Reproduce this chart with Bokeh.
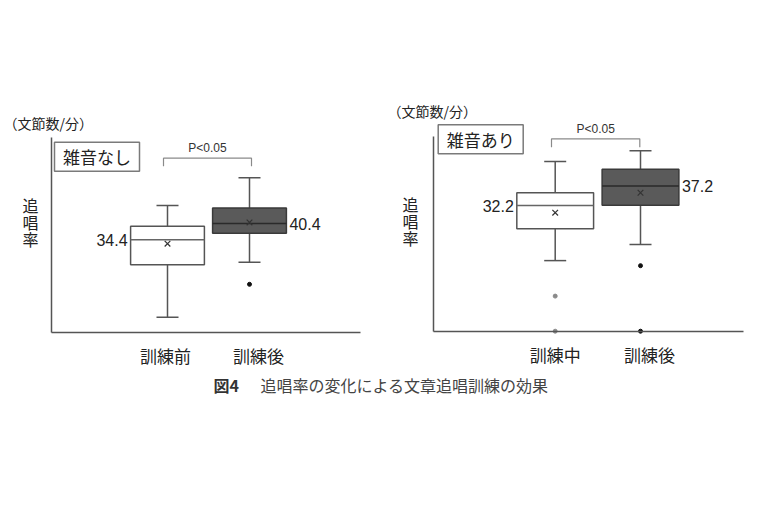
from bokeh.plotting import figure
from bokeh.models import Range1d, LinearAxis, FixedTicker
from bokeh.layouts import row, column
from bokeh.embed import file_html
from bokeh.resources import INLINE
from bokeh.core.properties import value

# ---------------- data ----------------
left_categories = ["訓練前", "訓練後"]
left_q1 = [25.1, 36.8]
left_median = [34.4, 40.4]
left_q3 = [39.4, 46.2]
left_lower = [5.6, 26.0]
left_upper = [47.1, 57.4]
left_mean = [32.9, 40.8]
left_outlier_box = [2]
left_outlier_val = [17.8]
left_labels = ["34.4", "40.4"]
left_ymax = 72.5

right_categories = ["訓練中", "訓練後"]
right_q1 = [26.3, 32.3]
right_median = [32.2, 37.2]
right_q3 = [35.5, 41.5]
right_lower = [18.1, 22.2]
right_upper = [43.5, 46.3]
right_mean = [30.4, 35.5]
right_outlier_box = [1, 1, 2, 2]
right_outlier_val = [9.0, 0.0, 16.8, 0.0]
right_labels = ["32.2", "37.2"]
right_ymax = 50.0

JP = value("Noto Sans CJK JP")
EN = value("Liberation Sans")
W, H = 372, 370


def panel(ox, oy, c1, sx, y0, sy, cats, q1, med, q3, lo, hi, mean, ob, ov, labels, ymax,
          tag_c, tag_label, bracket, pval_y, unit_xy, vert_xy, axis_x, axis_xend, cat_off):
    def dx(px):
        return 1 + (px - c1) / sx

    def dy(py):
        return (y0 - py) / sy

    p = figure(width=W, height=H, output_backend="svg", toolbar_location=None,
               x_range=Range1d(dx(ox), dx(ox + W)), y_range=Range1d(dy(oy + H), dy(oy)),
               x_axis_type=None, y_axis_type=None, min_border=0,
               outline_line_color=None, background_fill_color="white",
               border_fill_color="white")

    xs = [1, 2]
    bw = 0.9
    # axes
    ax_kw = dict(ticker=FixedTicker(ticks=[]), major_label_text_font_size="0px",
                 major_tick_in=0, major_tick_out=0, minor_tick_in=0, minor_tick_out=0,
                 major_label_standoff=0, axis_line_color="#555555", axis_line_width=1.5)
    yax = LinearAxis(fixed_location=dx(axis_x), bounds=(0, ymax), **ax_kw)
    xax = LinearAxis(fixed_location=0, bounds=(dx(axis_x), dx(axis_xend)), **ax_kw)
    p.add_layout(yax, "left")
    p.add_layout(xax, "below")

    # whiskers
    p.segment(x0=xs, y0=q3, x1=xs, y1=hi, line_color="#555555", line_width=1.5)
    p.segment(x0=xs, y0=q1, x1=xs, y1=lo, line_color="#555555", line_width=1.5)
    p.scatter(x=xs + xs, y=hi + lo, marker="dash", size=22, line_color="#555555", line_width=1.5)
    # boxes
    p.vbar(x=[xs[0]], width=bw, bottom=[q1[0]], top=[q3[0]], fill_color="white",
           line_color="#555555", line_width=1.5)
    p.vbar(x=[xs[1]], width=bw, bottom=[q1[1]], top=[q3[1]], fill_color="#5a5a5a",
           line_color="#3a3a3a", line_width=1.5)
    p.segment(x0=[xs[0] - bw / 2], y0=[med[0]], x1=[xs[0] + bw / 2], y1=[med[0]],
              line_color="#666666", line_width=1.5)
    p.segment(x0=[xs[1] - bw / 2], y0=[med[1]], x1=[xs[1] + bw / 2], y1=[med[1]],
              line_color="#2a2a2a", line_width=1.5)
    # means
    p.scatter(x=xs, y=mean, marker="x", size=8, line_color="#333333", line_width=1.2)
    # outliers
    ocol = ["#8a8a8a" if b == 1 else "#111111" for b in ob]
    p.scatter(x=ob, y=ov, marker="circle", size=4, fill_color=ocol, line_color=ocol)

    # median labels
    p.text(x=[xs[0] - bw / 2], y=[med[0]], text=[labels[0]], x_offset=-3,
           text_align="right", text_baseline="middle", text_font=EN,
           text_font_size="16px", text_color="#222222")
    p.text(x=[xs[1] + bw / 2], y=[med[1]], text=[labels[1]], x_offset=3,
           text_align="left", text_baseline="middle", text_font=EN,
           text_font_size="16px", text_color="#222222")

    # category labels
    p.text(x=xs, y=[0, 0], text=cats, x_offset=cat_off, y_offset=23,
           text_align="center", text_baseline="middle", text_font=JP,
           text_font_size="17px", text_color="#222222")

    # tag box
    p.rect(x=[dx(tag_c[0])], y=[dy(tag_c[1])], width=85, height=29,
           width_units="screen", height_units="screen", fill_color="white",
           line_color="#7a7a7a", line_width=1.5)
    p.text(x=[dx(tag_c[0])], y=[dy(tag_c[1])], text=[tag_label], text_align="center",
           text_baseline="middle", text_font=JP, text_font_size="17px", text_color="#222222")

    # significance bracket
    bx0, bx1, btop, bbot = bracket
    p.line(x=[dx(bx0), dx(bx0), dx(bx1), dx(bx1)], y=[dy(bbot), dy(btop), dy(btop), dy(bbot)],
           line_color="#8a8a8a", line_width=1.2)
    p.text(x=[dx((bx0 + bx1) / 2)], y=[dy(pval_y)], text=["P<0.05"], text_align="center",
           text_baseline="middle", text_font=EN, text_font_size="12px", text_color="#333333")

    # unit label
    p.text(x=[dx(unit_xy[0])], y=[dy(unit_xy[1])], text=["（文節数/分）"], text_align="left",
           text_baseline="middle", text_font=JP, text_font_size="14px", text_color="#222222")
    # y label (vertical)
    p.text(x=[dx(vert_xy[0])], y=[dy(vert_xy[1])], text=["追\n唱\n率"], text_align="center",
           text_baseline="middle", text_font=JP, text_font_size="16px",
           text_line_height=0.72, text_color="#222222")
    return p


p1 = panel(0, 0, 167, 82, 331.7, 2.69, left_categories, left_q1, left_median, left_q3,
           left_lower, left_upper, left_mean, left_outlier_box, left_outlier_val, left_labels,
           left_ymax, (96.5, 156.2), "雑音なし", (163, 251, 157.7, 165.7), 147,
           (3, 122.7), (30, 221.7), 50.7, 360, [-2, 9])

p2 = panel(372, 0, 554.7, 85.3, 330.7, 3.90, right_categories, right_q1, right_median,
           right_q3, right_lower, right_upper, right_mean, right_outlier_box,
           right_outlier_val, right_labels, right_ymax, (480.2, 138.8), "雑音あり",
           (551, 639.3, 138.3, 146.7), 128.3, (387, 110.7), (410, 220.5), 433.3, 742.7, [0, 9])

# caption
p3 = figure(width=744, height=50, output_backend="svg", toolbar_location=None,
            x_range=Range1d(0, 744), y_range=Range1d(0, 50), x_axis_type=None,
            y_axis_type=None, min_border=0, outline_line_color=None)
p3.text(x=[213], y=[35.3], text=["図4"], text_align="left", text_baseline="middle",
        text_font=JP, text_font_size="16px", text_font_style="bold", text_color="#333333")
p3.text(x=[260], y=[35.3], text=["追唱率の変化による文章追唱訓練の効果"], text_align="left",
        text_baseline="middle", text_font=JP, text_font_size="16px", text_color="#444444")

layout = column(row(p1, p2), p3)
open("out.html", "w").write(file_html(layout, INLINE))
